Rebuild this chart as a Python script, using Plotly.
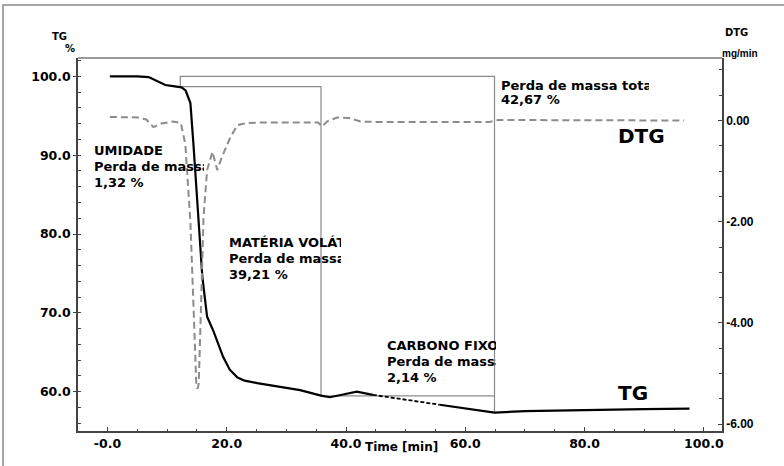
import plotly.graph_objects as go

# ---------------- data ----------------
tg_time = [0.4, 5.0, 6.9, 8.0, 9.0, 9.7, 11.0, 12.4, 13.1, 13.9, 14.4, 15.2, 15.9, 16.7, 17.7,
           19.4, 20.5, 21.8, 23.0, 25.1, 28.0, 32.3, 35.8, 37.3, 39.5, 41.8, 44.5, 50.0, 55.7,
           60.0, 64.9, 70.0, 80.0, 90.0, 97.6]
tg_value = [100.0, 100.0, 99.9, 99.5, 99.1, 98.9, 98.75, 98.6, 98.2, 96.6, 91.5, 82.7, 74.6, 69.5, 67.8,
            64.4, 62.8, 61.8, 61.4, 61.1, 60.7, 60.2, 59.5, 59.3, 59.65, 60.0, 59.6, 58.95, 58.35,
            57.9, 57.35, 57.55, 57.7, 57.8, 57.85]
tg_dashed_from = 44.5
tg_dashed_to = 55.7

dtg_time = [0.4, 5.0, 6.5, 7.7, 9.0, 11.0, 12.3, 13.05, 13.6, 13.9, 14.4, 14.9, 15.1, 15.3, 15.7,
            16.1, 16.7, 17.6, 18.4, 19.2, 20.6, 21.8, 23.4, 25.6, 30.0, 35.3, 36.0, 36.8, 38.5,
            40.5, 42.5, 45.0, 55.0, 64.0, 65.5, 75.0, 85.0, 96.7]
dtg_value = [0.07, 0.06, 0.02, -0.13, -0.06, -0.02, -0.05, -0.47, -1.46, -2.0, -3.6, -5.25, -5.3, -5.2, -3.6,
             -1.91, -0.98, -0.62, -0.98, -0.72, -0.33, -0.09, -0.05, -0.04, -0.04, -0.04, -0.12, -0.02, 0.06,
             0.05, -0.02, -0.03, -0.03, -0.03, 0.01, 0.01, 0.01, 0.0]

# step boundaries (min) and TG levels (%)
step_time = [12.2, 35.8, 64.9]
step_level = [100.0, 98.68, 59.47, 57.33]

x_tickvals = [0, 20, 40, 60, 80, 100]
x_ticktext = ["-0.0", "20.0", "40.0", "60.0", "80.0", "100.0"]
y_tickvals = [60, 70, 80, 90, 100]
y_ticktext = ["60.0", "70.0", "80.0", "90.0", "100.0"]
y2_tickvals = [-6, -4, -2, 0]
y2_ticktext = ["-6.00", "-4.00", "-2.00", "0.00"]

# ---------------- layout geometry ----------------
W, H = 784, 466
L, R, T, B = 78, 722, 58, 431


def px(xp):
    return (xp - L) / (R - L)


def py(yp):
    return (B - yp) / (B - T)


def b(s):
    return "<b>" + s + "</b>"


FONT = "DejaVu Sans"

fig = go.Figure()

# step (loss) lines
s_x = [step_time[2], step_time[2], step_time[0], step_time[0], step_time[1], step_time[1], step_time[2]]
s_y = [step_level[3], step_level[0], step_level[0], step_level[1], step_level[1], step_level[2], step_level[2]]
fig.add_trace(go.Scatter(x=s_x, y=s_y, mode="lines", line=dict(color="#8a8a8a", width=1.2),
                         showlegend=False, hoverinfo="skip"))

# DTG
fig.add_trace(go.Scatter(x=dtg_time, y=dtg_value, yaxis="y2", mode="lines",
                         line=dict(color="#8c8c8c", width=2, dash="7px,4px"),
                         showlegend=False))

# TG split into solid / dashed / solid
seg1 = [(t, v) for t, v in zip(tg_time, tg_value) if t <= tg_dashed_from]
seg2 = [(t, v) for t, v in zip(tg_time, tg_value) if tg_dashed_from <= t <= tg_dashed_to]
seg3 = [(t, v) for t, v in zip(tg_time, tg_value) if t >= tg_dashed_to]
for seg, dash, w in [(seg1, "solid", 2.2), (seg2, "4px,2px", 1.8), (seg3, "solid", 2.2)]:
    fig.add_trace(go.Scatter(x=[a for a, _ in seg], y=[v for _, v in seg], mode="lines",
                             line=dict(color="black", width=w, dash=dash), showlegend=False))

axis_col = "#444444"
fig.update_layout(
    width=W, height=H,
    margin=dict(l=L, r=W - R, t=T, b=H - B),
    paper_bgcolor="white", plot_bgcolor="white",
    showlegend=False,
    xaxis=dict(range=[-4.95, 103.05], tickvals=x_tickvals, ticktext=[b(s) for s in x_ticktext],
               showgrid=False, zeroline=False, showline=True, linecolor=axis_col, linewidth=1.5,
               ticks="inside", ticklen=4, tickcolor=axis_col, tickwidth=1.2,
               tickfont=dict(family=FONT, size=12.5, color="black"),
               minor=dict(tick0=0, dtick=5, ticks="inside", ticklen=2, tickcolor=axis_col, tickwidth=1.2)),
    yaxis=dict(range=[55.02, 102.32], tickvals=y_tickvals, ticktext=[b(s) for s in y_ticktext],
               showgrid=False, zeroline=False, showline=True, linecolor=axis_col, linewidth=1.5,
               ticks="outside", ticklen=3, tickcolor=axis_col, tickwidth=1.2,
               tickfont=dict(family=FONT, size=12.5, color="black"),
               minor=dict(tick0=0, dtick=2, ticks="inside", ticklen=3, tickcolor=axis_col, tickwidth=1.2)),
    yaxis2=dict(range=[-6.136, 1.235], overlaying="y", side="right", tickvals=y2_tickvals,
                ticktext=[b(s) for s in y2_ticktext],
                showgrid=False, zeroline=False, showline=True, linecolor=axis_col, linewidth=1.5,
                ticks="inside", ticklen=4, tickcolor=axis_col, tickwidth=1.2,
                tickfont=dict(family="Liberation Sans", size=12, color="black"),
                minor=dict(tick0=0, dtick=0.5, ticks="inside", ticklen=3, tickcolor=axis_col, tickwidth=1.2)),
)

# plot box top line and outer frame
fig.add_shape(type="line", xref="paper", yref="paper", x0=0, x1=1, y0=1, y1=1,
              line=dict(color="#777777", width=1.3))
fig.add_shape(type="rect", xref="paper", yref="paper", x0=px(3), x1=px(W + 20), y0=py(H + 20), y1=py(5),
              line=dict(color="#888888", width=1.5), fillcolor="rgba(0,0,0,0)", layer="below")


def block(xl, ytop_center, lines, width, size=13, spacing=16):
    for i, txt in enumerate(lines):
        fig.add_annotation(xref="paper", yref="paper", x=px(xl), y=py(ytop_center + i * spacing),
                           xanchor="left", yanchor="middle", align="left", showarrow=False,
                           width=width, borderpad=0, text=b(txt),
                           font=dict(family=FONT, size=size, color="black"))


block(93, 150, ["UMIDADE", "Perda de massa", "1,32 %"], 110)
block(228, 242, ["MATÉRIA VOLÁTIL", "Perda de massa", "39,21 %"], 112)
block(386, 345, ["CARBONO FIXO", "Perda de massa", "2,14 %"], 109)
block(500, 85, ["Perda de massa total", "42,67 %"], 148, spacing=15)


def label(xp, yp, txt, size, anchor="left", family=FONT):
    fig.add_annotation(xref="paper", yref="paper", x=px(xp), y=py(yp), xanchor=anchor, yanchor="middle",
                       showarrow=False, text=b(txt), borderpad=0,
                       font=dict(family=family, size=size, color="black"))


label(617, 136, "DTG", 20)
label(617, 393, "TG", 20)
label(51, 37, "TG", 10)
label(64, 49, "%", 10)
label(724, 33, "DTG", 10)
label(721, 53, "mg/min", 10, family="Liberation Sans")
label(402, 447, "Time [min]", 12, anchor="center")

fig.write_html("out.html")
